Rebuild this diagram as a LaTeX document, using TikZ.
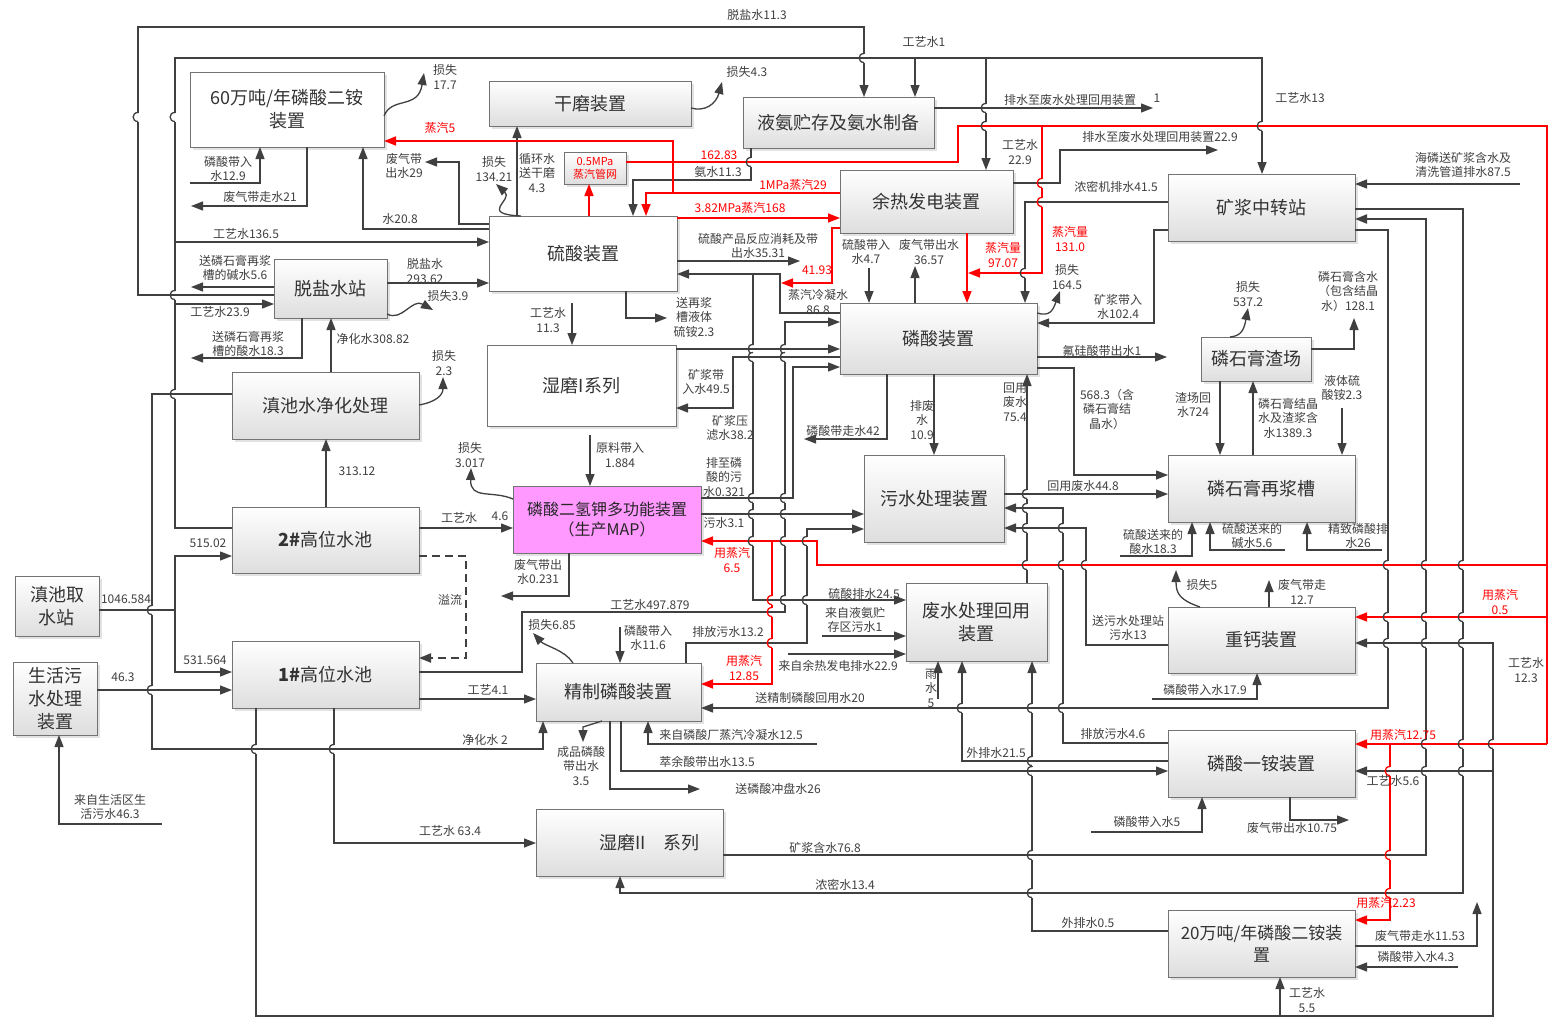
\documentclass[tikz,border=0pt]{standalone}
\usepackage{fontspec}
\setmainfont{Noto Sans CJK SC}
\usetikzlibrary{arrows.meta,shadows}
\definecolor{lnc}{HTML}{404040}
\definecolor{mapc}{HTML}{FF99FF}
\newcommand\bxx[7][]{\node[bx,#1,anchor=north west,minimum width={(#5-#3)*1pt},minimum height={(#6-#4)*1pt}] (#2) at (#3,#4) {#7};}
\newcommand\lb[4][]{\node[lbl,#1] (#2) at (#3) {#4};}
% jump: #1 vertical colour, #2 x, #3 y, #4 horizontal colour
\newcommand\jmp[4][lnc]{%
 \fill[white] (#2-1.8,#3-4.5) rectangle (#2+1.8,#3+4.5);
 \draw[draw=#1,line width=1.3pt] (#2,#3-4.5) .. controls (#2-6.5,#3-4.5) and (#2-6.5,#3+4.5) .. (#2,#3+4.5);
 \draw[draw=#4,line width=1.3pt] (#2-2.2,#3) -- (#2+2.2,#3);}
\begin{document}
\begin{tikzpicture}[x=1pt,y=-1pt,
 bx/.style={draw=black!55,line width=0.9pt,top color=white,bottom color=black!13,drop shadow={shadow xshift=2.5pt,shadow yshift=-2.5pt,fill=black!22},align=center,inner sep=1pt,outer sep=0pt,font=\fontsize{18}{23}\selectfont,text=black!80},
 wb/.style={top color=white,bottom color=white},
 lbl/.style={font=\fontsize{12}{14.5}\selectfont,text=black!75,inner sep=0pt,align=center},
 rlbl/.style={lbl,text=red},
 c/.style={draw=lnc,line width=1.3pt},
 a/.style={c,-{Triangle[length=12pt,width=9pt]}},
 r/.style={draw=red,line width=1.5pt},
 ra/.style={r,-{Triangle[length=12pt,width=9pt]}}]
\useasboundingbox[fill=white] (0,0) rectangle (1549,1017);
% ---------------- boxes
\bxx[wb]{ldA}{190}{72}{384}{147}{60万吨/年磷酸二铵\\装置}
\bxx{gm}{489}{81}{691}{126}{干磨装置}
\bxx{ya}{743}{97}{934}{148}{液氨贮存及氨水制备}
\bxx[wb]{ls}{489}{216}{677}{291}{硫酸装置}
\bxx[font=\fontsize{11}{13}\selectfont,text=red,inner sep=0pt]{zq}{564}{152}{626}{184}{0.5MPa\\蒸汽管网}
\bxx{yr}{840}{170}{1013}{233}{余热发电装置}
\bxx{kj}{1168}{174}{1355}{241}{矿浆中转站}
\bxx{tys}{274}{259}{387}{318}{脱盐水站}
\bxx{lsz}{840}{303}{1037}{374}{磷酸装置}
\bxx[wb]{smA}{487}{345}{676}{426}{湿磨I系列}
\bxx{dcj}{232}{372}{419}{439}{滇池水净化处理}
\bxx{zc}{1201}{337}{1311}{381}{磷石膏渣场}
\bxx{zj}{1168}{455}{1355}{522}{磷石膏再浆槽}
\bxx{ws}{864}{455}{1004}{542}{污水处理装置}
\bxx[top color=mapc,bottom color=mapc,font=\fontsize{16}{20}\selectfont,text=black!85]{map}{513}{486}{701}{553}{磷酸二氢钾多功能装置\\（生产MAP）}
\bxx{gB}{232}{507}{419}{573}{\textbf{2\#}高位水池}
\bxx{qs}{15}{576}{99}{636}{滇池取\\水站}
\bxx{gA}{232}{641}{419}{708}{\textbf{1\#}高位水池}
\bxx{shw}{13}{662}{97}{735}{生活污\\水处理\\装置}
\bxx{fh}{906}{583}{1047}{661}{废水处理回用\\装置}
\bxx{zg}{1168}{607}{1355}{673}{重钙装置}
\bxx{jz}{536}{663}{701}{721}{精制磷酸装置}
\bxx{yaA}{1168}{730}{1355}{797}{磷酸一铵装置}
\bxx{smB}{536}{809}{723}{876}{\hspace{2.2em}湿磨II\quad 系列}
\bxx[font=\fontsize{17}{22}\selectfont]{ldB}{1168}{910}{1355}{977}{20万吨/年磷酸二铵装\\置}
% ---------------- black connectors
\draw[a] (tys.west |- 0,295) -- (138,295) -- (138,27) -- (864,27) -- (ya.north -| 864,0);
\draw[a] (gB.west |- 0,528) -- (175,528) -- (175,58) -- (1262,58) -- (kj.north -| 1262,0);
\draw[a] (915,58) -- (ya.north -| 915,0);
\draw[a] (986,58) -- (yr.north -| 986,0);
\draw[a] (175,242) -- (ls.west |- 0,242);
\draw[a] (tys.east |- 0,283) -- (ls.west |- 0,283);
\draw[a] (tys.east |- 0,314) .. controls (402,322) and (412,298) .. (433,310);
\draw[a] (tys.west |- 0,287) -- (191,287);
\draw[a] (175,304) -- (tys.west |- 0,304);
\draw[a] (tys.south -| 302,0) -- (302,358) -- (191,358);
\draw[a] (dcj.north -| 331,0) -- (tys.south -| 331,0);
\draw[a] (dcj.east |- 0,405) .. controls (436,402) and (443,395) .. (443,377);
\draw[a] (gB.north -| 326,0) -- (dcj.south -| 326,0);
\draw[a] (dcj.west |- 0,394) -- (152,394) -- (152,749) -- (543,749) -- (jz.south -| 543,0);
\draw[c] (qs.east |- 0,610) -- (175,610);
\draw[a] (175,610) -- (175,556) -- (gB.west |- 0,556);
\draw[a] (175,610) -- (175,672) -- (gA.west |- 0,672);
\draw[a] (shw.east |- 0,690) -- (gA.west |- 0,690);
\draw[a] (162,824) -- (59,824) -- (shw.south -| 59,0);
\draw[a] (gA.south -| 256,0) -- (256,1016) -- (1493,1016) -- (1493,643) -- (zg.east |- 0,643);
\draw[a] (1493,771) -- (yaA.east |- 0,771);
\draw[a] (1280,1016) -- (ldB.south -| 1280,0);
\draw[a] (gA.south -| 334,0) -- (334,843) -- (smB.west |- 0,843);
\draw[a] (gA.east |- 0,699) -- (jz.west |- 0,699);
\draw[a] (gA.east |- 0,672) -- (522,672) -- (522,612) -- (785,612) -- (785,322) -- (lsz.west |- 0,322);
\draw[a] (lsz.west |- 0,313) -- (780,313) -- (780,274) -- (ls.east |- 0,274);
\draw[a] (753,274) -- (753,600) -- (fh.west |- 0,600);
\draw[a] (190,183) -- (260,183) -- (ldA.south -| 260,0);
\draw[a] (ldA.south -| 307,0) -- (307,206) -- (191,206);
\draw[a] (ls.west |- 0,229) -- (363,229) -- (ldA.south -| 363,0);
\draw[a] (ls.west |- 0,224) -- (459,224) -- (459,162) -- (425,162);
\draw[a] (ldA.east |- 0,116) .. controls (392,96) and (418,110) .. (424,73);
\draw[a] (gm.east |- 0,108) .. controls (705,112) and (716,104) .. (722,82);
\draw[a] (ls.north -| 517,0) -- (gm.south -| 517,0);
\draw[a] (ls.north -| 521,0) .. controls (478,214) and (514,200) .. (496,184);
\draw[a] (ya.south -| 751,0) -- (751,180) -- (633,180) -- (ls.north -| 633,0);
\draw[a] (ya.east |- 0,108) -- (1153,108);
\draw[a] (yr.east |- 0,183) -- (1060,183) -- (1060,150) -- (1218,150);
\draw[a] (kj.west |- 0,202) -- (1025,202) -- (lsz.north -| 1025,0);
\draw[a] (kj.west |- 0,230) -- (1154,230) -- (1154,323) -- (lsz.east |- 0,323);
\draw[a] (lsz.east |- 0,313) .. controls (1050,317) and (1053,310) .. (1060,291);
\draw[a] (869,268) -- (lsz.north -| 869,0);
\draw[a] (lsz.north -| 915,0) -- (915,266);
\draw[a] (1520,184) -- (kj.east |- 0,184);
\draw[a] (kj.east |- 0,209) -- (1463,209) -- (1463,893) -- (620,893) -- (smB.south -| 620,0);
\draw[a,line width=2pt] (smB.east |- 0,855) -- (1426,855) -- (1426,219) -- (kj.east |- 0,219);
\draw[a] (kj.east |- 0,230) -- (1388,230) -- (1388,708) -- (jz.east |- 0,708);
\draw[a] (zc.north -| 1230,0) .. controls (1241,336) and (1244,330) .. (1248,308);
\draw[a] (zc.east |- 0,349) -- (1354,349) -- (1354,318);
\draw[a] (zc.south -| 1220,0) -- (zj.north -| 1220,0);
\draw[a] (zj.north -| 1253,0) -- (zc.south -| 1253,0);
\draw[a] (1342,408) -- (zj.north -| 1342,0);
\draw[a] (lsz.east |- 0,357) -- (1167,357);
\draw[a] (lsz.east |- 0,368) -- (1074,368) -- (1074,475) -- (zj.west |- 0,475);
\draw[a] (ws.east |- 0,494) -- (zj.west |- 0,494);
\draw[a] (1120,556) -- (1192,556) -- (zj.south -| 1192,0);
\draw[a] (1285,550) -- (1210,550) -- (zj.south -| 1210,0);
\draw[a] (1382,550) -- (1307,550) -- (zj.south -| 1307,0);
\draw[a] (lsz.south -| 934,0) -- (ws.north -| 934,0);
\draw[a] (lsz.south -| 887,0) -- (887,439) -- (804,439);
\draw[a] (fh.north -| 1027,0) -- (lsz.south -| 1027,0);
\draw[a] (yaA.west |- 0,743) -- (1063,743) -- (1063,508) -- (ws.east |- 0,508);
\draw[a] (zg.west |- 0,645) -- (1086,645) -- (1086,528) -- (ws.east |- 0,528);
\draw[a] (938,699) -- (fh.south -| 938,0);
\draw[a] (yaA.west |- 0,761) -- (962,761) -- (fh.south -| 962,0);
\draw[a] (ldB.west |- 0,931) -- (1032,931) -- (fh.south -| 1032,0);
\draw[a] (822,636) -- (fh.west |- 0,636);
\draw[a] (788,654) -- (fh.west |- 0,654);
\draw[a] (zg.north -| 1200,0) .. controls (1180,600) and (1176,594) .. (1176,570);
\draw[a] (zg.north -| 1269,0) -- (1269,580);
\draw[a] (1152,699) -- (1257,699) -- (zg.south -| 1257,0);
\draw[a] (1091,832) -- (1202,832) -- (yaA.south -| 1202,0);
\draw[a] (yaA.south -| 1290,0) -- (1290,820) -- (1349,820);
\draw[a] (ldB.east |- 0,946) -- (1477,946) -- (1477,902);
\draw[a] (1458,967) -- (ldB.east |- 0,967);
\draw[a] (jz.south -| 621,0) -- (621,771) -- (yaA.west |- 0,771);
\draw[a] (jz.south -| 610,0) -- (610,789) -- (700,789);
\draw[a] (817,744) -- (648,744) -- (jz.south -| 648,0);
\draw[a] (jz.south -| 602,0) -- (583,727) -- (583,742);
\draw[a] (620,627) -- (jz.north -| 620,0);
\draw[a] (jz.north -| 573,0) .. controls (565,650) and (545,646) .. (533,633);
\draw[a] (jz.north -| 686,0) -- (686,643) -- (807,643) -- (807,529) -- (ws.west |- 0,529);
\draw[a] (590,435) -- (map.north -| 590,0);
\draw[a] (map.west |- 0,499) .. controls (492,490) and (470,500) .. (471,468);
\draw[a] (gB.east |- 0,528) -- (map.west |- 0,528);
\draw[a] (map.south -| 569,0) -- (569,596) -- (501,596);
\draw[a,dashed,line width=2pt,dash pattern=on 8pt off 5pt] (gB.east |- 0,556) -- (466,556) -- (466,658) -- (gA.east |- 0,658);
\draw[a] (572,303) -- (smA.north -| 572,0);
\draw[a] (ls.south -| 626,0) -- (626,318) -- (667,318);
\draw[a] (ls.east |- 0,261) -- (800,261);
\draw[a] (smA.east |- 0,349) -- (lsz.west |- 0,349);
\draw[a] (lsz.west |- 0,357) -- (733,357) -- (733,408) -- (smA.east |- 0,408);
\draw[a] (map.east |- 0,498) -- (793,498) -- (793,367) -- (lsz.west |- 0,367);
\draw[a] (map.east |- 0,514) -- (ws.west |- 0,514);
% ---------------- red connectors
\draw[ra] (ls.north -| 589,0) -- (zq.south -| 589,0);
\draw[ra] (yr.west |- 0,193) -- (646,193) -- (ls.north -| 646,0);
\draw[ra] (673,193) -- (673,141) -- (ldA.east |- 0,141);
\draw[r] (zq.east |- 0,162) -- (958,162) -- (958,126) -- (1547,126) -- (1547,744);
\draw[ra] (1547,744) -- (yaA.east |- 0,744);
\draw[ra] (1547,565) -- (817,565) -- (817,541) -- (map.east |- 0,541);
\draw[ra] (772,541) -- (772,684) -- (jz.east |- 0,684);
\draw[ra] (1547,617) -- (zg.east |- 0,617);
\draw[ra] (1390,744) -- (1390,920) -- (ldB.east |- 0,920);
\draw[ra] (1042,126) -- (1042,273) -- (968,273);
\draw[ra] (yr.south -| 967,0) -- (lsz.north -| 967,0);
\draw[ra] (ls.east |- 0,218) -- (yr.west |- 0,218);
\draw[ra] (yr.west |- 0,228) -- (832,228) -- (832,283) -- (781,283);
% ---------------- line jumps
\jmp{138}{117}{none}\jmp{175}{117}{none}
\jmp{175}{295}{lnc}\jmp{175}{394}{lnc}\jmp{152}{610}{lnc}\jmp{152}{690}{lnc}
\jmp{256}{749}{lnc}\jmp{334}{749}{lnc}\jmp{864}{58}{lnc}\jmp{986}{108}{lnc}
\jmp{986}{126}{red}\jmp{1262}{126}{red}\jmp{751}{162}{red}\jmp{1025}{273}{red}
\jmp[red]{1042}{183}{lnc}\jmp[red]{1042}{202}{lnc}
\jmp{753}{349}{lnc}\jmp{753}{357}{lnc}\jmp{753}{498}{lnc}\jmp{753}{514}{lnc}\jmp{753}{541}{red}
\jmp{785}{349}{lnc}\jmp{785}{357}{lnc}\jmp{785}{498}{lnc}\jmp{785}{514}{lnc}\jmp{785}{541}{red}\jmp{785}{600}{lnc}
\jmp{807}{541}{red}\jmp{807}{600}{lnc}
\jmp[red]{772}{600}{lnc}\jmp[red]{772}{612}{lnc}\jmp[red]{772}{643}{lnc}
\jmp{1027}{494}{lnc}\jmp{1027}{508}{lnc}\jmp{1027}{528}{lnc}\jmp{1027}{565}{red}
\jmp{1063}{528}{lnc}\jmp{1063}{565}{red}\jmp{1063}{708}{lnc}\jmp{1086}{565}{red}
\jmp{962}{708}{lnc}
\jmp{1032}{708}{lnc}\jmp{1032}{761}{lnc}\jmp{1032}{771}{lnc}\jmp{1032}{855}{lnc}\jmp{1032}{893}{lnc}
\jmp{1388}{565}{red}\jmp{1388}{617}{red}\jmp{1388}{643}{lnc}
\jmp{1426}{565}{red}\jmp{1426}{617}{red}\jmp{1426}{643}{lnc}\jmp{1426}{744}{red}\jmp{1426}{771}{lnc}
\jmp{1463}{565}{red}\jmp{1463}{617}{red}\jmp{1463}{643}{lnc}\jmp{1463}{744}{red}\jmp{1463}{771}{lnc}
\jmp{1493}{744}{red}
\jmp[red]{1390}{771}{lnc}\jmp[red]{1390}{855}{lnc}\jmp[red]{1390}{893}{lnc}
% ---------------- labels
\lb{t1}{757,15}{脱盐水11.3}
\lb{t2}{924,42}{工艺水1}
\lb{t3}{445,77}{损失\\17.7}
\lb{t4}{747,72}{损失4.3}
\lb{t5}{1070,100}{排水至废水处理回用装置}
\lb{t5b}{1157,98}{1}
\lb{t6}{1300,98}{工艺水13}
\lb[rlbl]{t7}{440,128}{蒸汽5}
\lb{t8}{1020,152}{工艺水\\22.9}
\lb{t9}{1160,137}{排水至废水处理回用装置22.9}
\lb{t10}{228,169}{磷酸带入\\水12.9}
\lb{t11}{404,166}{废气带\\出水29}
\lb{t12}{494,169}{损失\\134.21}
\lb{t13}{537,173}{循环水\\送干磨\\4.3}
\lb[rlbl]{t14}{719,155}{162.83}
\lb{t15}{718,172}{氨水11.3}
\lb{t16}{1463,165}{海磷送矿浆含水及\\清洗管道排水87.5}
\lb[rlbl]{t17}{793,185}{1MPa蒸汽29}
\lb{t18}{1116,187}{浓密机排水41.5}
\lb{t19}{260,197}{废气带走水21}
\lb[rlbl]{t20}{740,208}{3.82MPa蒸汽168}
\lb{t21}{400,219}{水20.8}
\lb{t22}{246,234}{工艺水136.5}
\lb[rlbl]{t23}{1070,239}{蒸汽量\\131.0}
\lb{t24}{758,246}{硫酸产品反应消耗及带\\出水35.31}
\lb{t25}{866,252}{硫酸带入\\水4.7}
\lb{t26}{929,252}{废气带出水\\36.57}
\lb[rlbl]{t27}{1003,255}{蒸汽量\\97.07}
\lb{t28}{235,268}{送磷石膏再浆\\槽的碱水5.6}
\lb{t29}{425,271}{脱盐水\\293.62}
\lb[rlbl]{t30}{817,270}{41.93}
\lb{t31}{1067,277}{损失\\164.5}
\lb{t32}{1248,294}{损失\\537.2}
\lb{t33}{1348,291}{磷石膏含水\\（包含结晶\\水）128.1}
\lb{t34}{448,296}{损失3.9}
\lb{t35}{818,302}{蒸汽冷凝水\\86.8}
\lb{t36}{1118,307}{矿浆带入\\水102.4}
\lb{t37}{220,312}{工艺水23.9}
\lb{t38}{548,320}{工艺水\\11.3}
\lb{t39}{694,317}{送再浆\\槽液体\\硫铵2.3}
\lb{t40}{248,344}{送磷石膏再浆\\槽的酸水18.3}
\lb{t41}{373,339}{净化水308.82}
\lb{t42}{1102,351}{氟硅酸带出水1}
\lb{t43}{444,363}{损失\\2.3}
\lb{t44}{706,382}{矿浆带\\入水49.5}
\lb{t45}{1015,402}{回用\\废水\\75.4}
\lb{t46}{1107,409}{568.3（含\\磷石膏结\\晶水）}
\lb{t47}{1342,388}{液体硫\\酸铵2.3}
\lb{t48}{1193,405}{渣场回\\水724}
\lb{t49}{1288,418}{磷石膏结晶\\水及渣浆含\\水1389.3}
\lb{t50}{922,420}{排废\\水\\10.9}
\lb{t51}{730,428}{矿浆压\\滤水38.2}
\lb{t52}{843,431}{磷酸带走水42}
\lb{t53}{620,455}{原料带入\\1.884}
\lb{t54}{470,455}{损失\\3.017}
\lb{t55}{357,471}{313.12}
\lb{t56}{724,477}{排至磷\\酸的污\\水0.321}
\lb{t57}{1083,486}{回用废水44.8}
\lb{t58}{459,518}{工艺水}
\lb{t58b}{500,516}{4.6}
\lb{t59}{724,523}{污水3.1}
\lb{t60}{1153,542}{硫酸送来的\\酸水18.3}
\lb{t61}{1252,536}{硫酸送来的\\碱水5.6}
\lb{t62}{1358,536}{精致磷酸排\\水26}
\lb{t63}{208,543}{515.02}
\lb[rlbl]{t64}{732,560}{用蒸汽\\6.5}
\lb{t65}{538,572}{废气带出\\水0.231}
\lb{t66}{1202,585}{损失5}
\lb{t67}{1302,592}{废气带走\\12.7}
\lb{t68}{864,594}{硫酸排水24.5}
\lb[rlbl]{t69}{1500,602}{用蒸汽\\0.5}
\lb{t70}{126,599}{1046.584}
\lb{t71}{450,600}{溢流}
\lb{t72}{650,605}{工艺水497.879}
\lb{t73}{855,620}{来自液氨贮\\存区污水1}
\lb{t74}{552,625}{损失6.85}
\lb{t75}{648,638}{磷酸带入\\水11.6}
\lb{t76}{728,632}{排放污水13.2}
\lb{t77}{1128,628}{送污水处理站\\污水13}
\lb{t78}{205,660}{531.564}
\lb[rlbl]{t79}{744,668}{用蒸汽\\12.85}
\lb{t80}{838,666}{来自余热发电排水22.9}
\lb{t81}{1526,670}{工艺水\\12.3}
\lb{t82}{931,688}{雨\\水\\5}
\lb{t83}{123,677}{46.3}
\lb{t84}{488,690}{工艺4.1}
\lb{t85}{1205,690}{磷酸带入水17.9}
\lb{t86}{810,698}{送精制磷酸回用水20}
\lb{t87}{731,735}{来自磷酸厂蒸汽冷凝水12.5}
\lb[rlbl]{t88}{1403,735}{用蒸汽12.75}
\lb{t89}{1113,734}{排放污水4.6}
\lb{t90}{485,740}{净化水 2}
\lb{t91}{581,766}{成品磷酸\\带出水\\3.5}
\lb{t92}{996,753}{外排水21.5}
\lb{t93}{707,762}{萃余酸带出水13.5}
\lb{t94}{1393,781}{工艺水5.6}
\lb{t95}{778,789}{送磷酸冲盘水26}
\lb{t96}{110,807}{来自生活区生\\活污水46.3}
\lb{t97}{1147,822}{磷酸带入水5}
\lb{t98}{1292,828}{废气带出水10.75}
\lb{t99}{450,831}{工艺水 63.4}
\lb{t100}{825,848}{矿浆含水76.8}
\lb{t101}{845,885}{浓密水13.4}
\lb[rlbl]{t102}{1386,903}{用蒸汽2.23}
\lb{t103}{1088,923}{外排水0.5}
\lb{t104}{1420,936}{废气带走水11.53}
\lb{t105}{1416,957}{磷酸带入水4.3}
\lb{t106}{1307,1000}{工艺水\\5.5}
\end{tikzpicture}
\end{document}
